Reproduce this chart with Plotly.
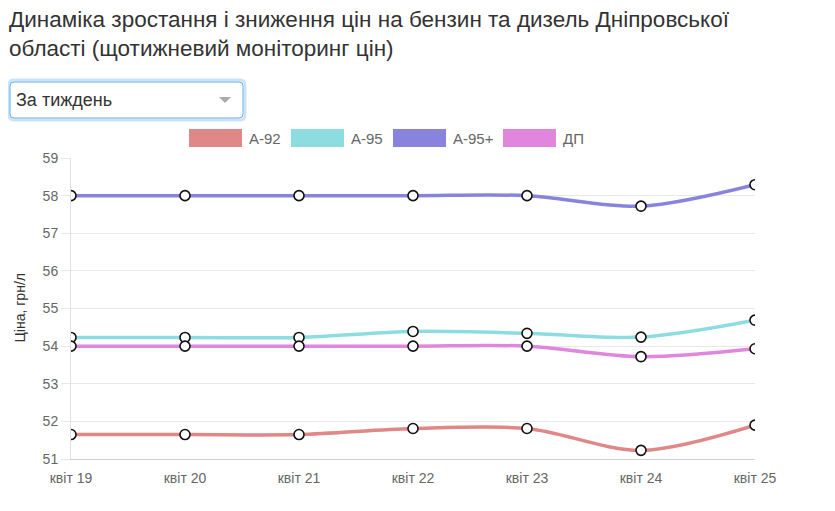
import plotly.graph_objects as go

# дані
dates = ['квіт 19', 'квіт 20', 'квіт 21', 'квіт 22', 'квіт 23', 'квіт 24', 'квіт 25']
a92 = [51.65, 51.65, 51.65, 51.81, 51.81, 51.23, 51.90]
a95 = [54.23, 54.23, 54.23, 54.39, 54.34, 54.24, 54.69]
a95plus = [58.0, 58.0, 58.0, 58.0, 58.0, 57.72, 58.29]
dp = [54.0, 54.0, 54.0, 54.0, 54.0, 53.72, 53.93]

names = ['А-92', 'А-95', 'А-95+', 'ДП']
colors = ['#e08787', '#8ddde0', '#8884dd', '#e086dc']
series = [a92, a95, a95plus, dp]

title = 'Динаміка зростання і зниження цін на бензин та дизель Дніпровської<br>області (щотижневий моніторинг цін)'
period_label = 'За тиждень'
y_title = 'Ціна, грн/л'

FONT = 'Liberation Sans, Arial, sans-serif'
# сторінка має відступ body 8px, тому фігура трохи менша за вікно
OFF = 8
WIDTH, HEIGHT = 835 - OFF, 511 - 2 * OFF
L, T = 71 - OFF, 158 - OFF
R = WIDTH - (755 - OFF)
B = HEIGHT - (459 - OFF)
PW, PH = WIDTH - L - R, HEIGHT - T - B


# пікселі скріншота -> paper
def px(x):
    return (x - OFF - L) / PW


def py(y):
    return (T + PH - (y - OFF)) / PH


def rounded(x0, y0, x1, y1, r=4):
    # прямокутник із заокругленими кутами
    pts = [
        f'M{px(x0 + r)},{py(y0)}', f'L{px(x1 - r)},{py(y0)}', f'Q{px(x1)},{py(y0)} {px(x1)},{py(y0 + r)}',
        f'L{px(x1)},{py(y1 - r)}', f'Q{px(x1)},{py(y1)} {px(x1 - r)},{py(y1)}',
        f'L{px(x0 + r)},{py(y1)}', f'Q{px(x0)},{py(y1)} {px(x0)},{py(y1 - r)}',
        f'L{px(x0)},{py(y0 + r)}', f'Q{px(x0)},{py(y0)} {px(x0 + r)},{py(y0)}', 'Z',
    ]
    return ' '.join(pts)


fig = go.Figure()
for name, color, vals in zip(names, colors, series):
    fig.add_trace(go.Scatter(
        x=dates, y=vals, name=name, mode='lines+markers',
        line=dict(color=color, width=3.5, shape='spline', smoothing=0.9),
        marker=dict(size=10, color='white', line=dict(color='#111', width=1.6)),
        showlegend=False,
    ))

shapes = []
annotations = []

# заголовок
annotations.append(dict(text=title, xref='paper', yref='paper', x=px(7), y=py(5),
                        xanchor='left', yanchor='top', align='left', showarrow=False,
                        font=dict(family=FONT, size=22.5, color='#333')))

# легенда (кольорові прямокутники)
legend_x = [189, 291, 393, 503]
for x0, name, color in zip(legend_x, names, colors):
    shapes.append(dict(type='rect', xref='paper', yref='paper',
                       x0=px(x0), x1=px(x0 + 53), y0=py(129), y1=py(147),
                       fillcolor=color, line=dict(width=0)))
    annotations.append(dict(text=name, xref='paper', yref='paper', x=px(x0 + 58), y=py(138.5),
                            xanchor='left', yanchor='middle', showarrow=False,
                            font=dict(family=FONT, size=15, color='#666')))

# випадаючий список
shapes.append(dict(type='path', xref='paper', yref='paper', path=rounded(9, 80, 245, 120, 5),
                   line=dict(color='rgba(102,175,233,0.35)', width=3), fillcolor='white'))
shapes.append(dict(type='path', xref='paper', yref='paper', path=rounded(10, 82, 243, 118, 4),
                   line=dict(color='#66afe9', width=1), fillcolor='white'))
shapes.append(dict(type='path', xref='paper', yref='paper',
                   path=f'M{px(219)},{py(97)} L{px(231)},{py(97)} L{px(225)},{py(103)} Z',
                   line=dict(width=0), fillcolor='#aaa'))
annotations.append(dict(text=period_label, xref='paper', yref='paper', x=px(14), y=py(100),
                        xanchor='left', yanchor='middle', showarrow=False,
                        font=dict(family=FONT, size=18, color='#333')))

# підпис осі Y
annotations.append(dict(text=y_title, xref='paper', yref='paper', x=px(19), y=0.5,
                        xanchor='center', yanchor='middle', textangle=-90, showarrow=False,
                        font=dict(family=FONT, size=14, color='#333')))

fig.update_layout(
    width=WIDTH, height=HEIGHT,
    margin=dict(l=L, r=R, t=T, b=B),
    paper_bgcolor='white', plot_bgcolor='white',
    font=dict(family=FONT, color='#666'),
    shapes=shapes, annotations=annotations,
)
fig.update_xaxes(range=[0, 6], showgrid=False, zeroline=False,
                 showline=True, linecolor='#cfcfcf', linewidth=1,
                 ticks='outside', ticklen=6, tickcolor='rgba(0,0,0,0)',
                 tickfont=dict(family=FONT, size=14, color='#666'))
fig.update_yaxes(range=[51, 59], dtick=1, showgrid=True, gridcolor='#e8e8e8', zeroline=False,
                 showline=True, linecolor='#e0e0e0', linewidth=1,
                 ticks='outside', ticklen=9, tickcolor='#e8e8e8',
                 tickfont=dict(family=FONT, size=14, color='#666'))

fig.write_html('out.html')
